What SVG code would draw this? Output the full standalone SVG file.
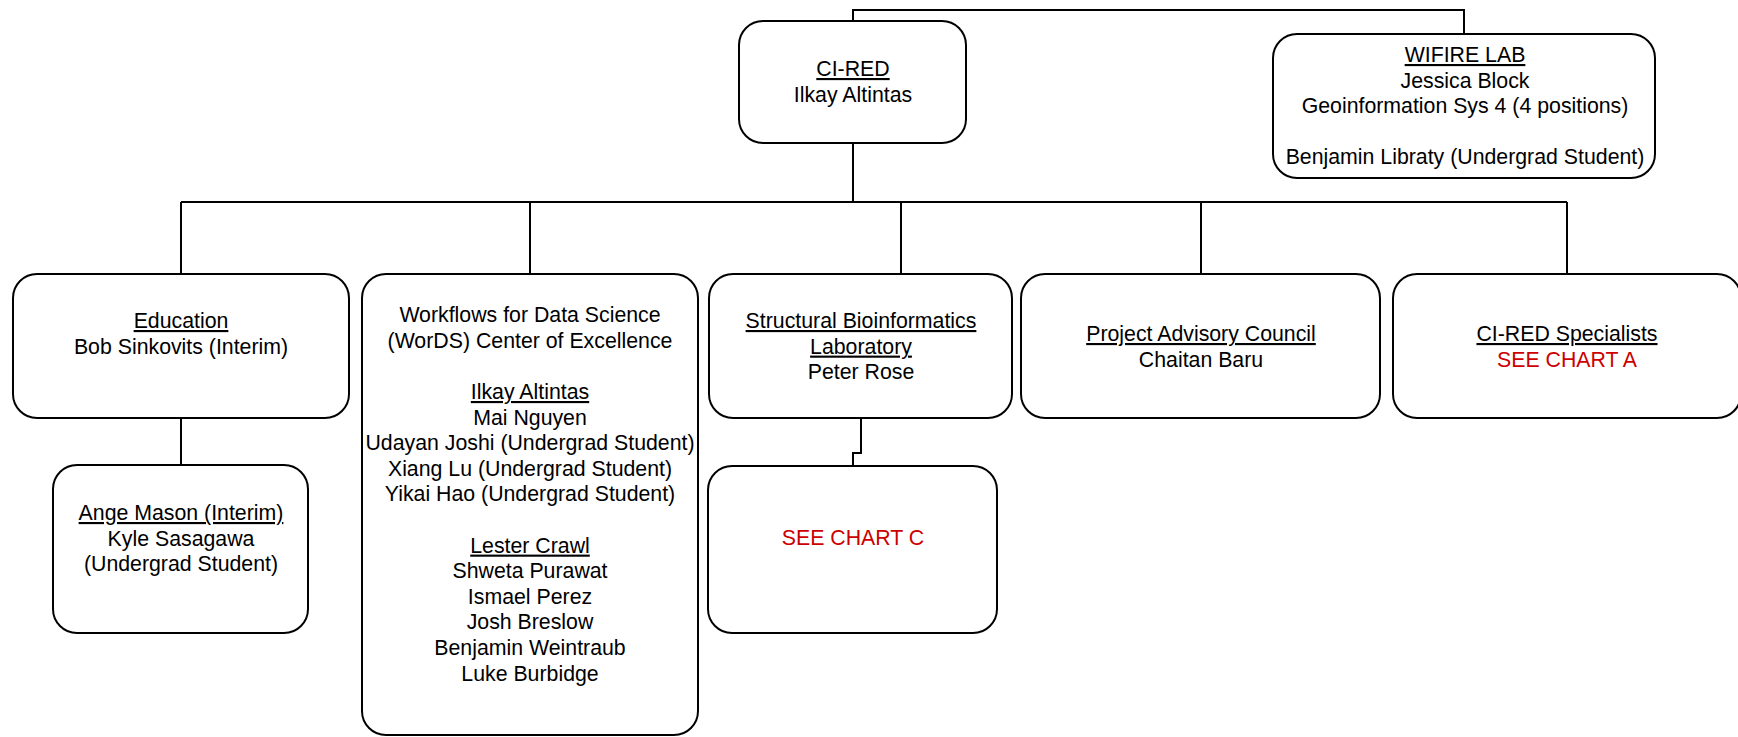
<svg xmlns="http://www.w3.org/2000/svg" width="1738" height="737" viewBox="0 0 1738 737">
<style>
.box{fill:#fff;stroke:#000;stroke-width:2}
.con{fill:none;stroke:#000;stroke-width:2}
text{font-family:"Liberation Sans",Arial,sans-serif;font-size:21.3px;fill:#000;text-anchor:middle}
.u{text-decoration:underline}
.red{fill:#CC0000}
</style>
<rect width="1738" height="737" fill="#fff"/>
<g id="connectors">
<polyline class="con" points="853,21 853,10 1464,10 1464,34"/>
<line class="con" x1="853" y1="143" x2="853" y2="202"/>
<line class="con" x1="181" y1="202" x2="1567" y2="202"/>
<line class="con" x1="181" y1="202" x2="181" y2="274"/>
<line class="con" x1="530" y1="202" x2="530" y2="274"/>
<line class="con" x1="901" y1="202" x2="901" y2="274"/>
<line class="con" x1="1201" y1="202" x2="1201" y2="274"/>
<line class="con" x1="1567" y1="202" x2="1567" y2="274"/>
<line class="con" x1="181" y1="418" x2="181" y2="465"/>
<polyline class="con" points="861,418 861,453 853,453 853,466"/>
</g>
<g id="ci-red">
<rect class="box" x="739" y="21" width="227" height="122" rx="24"/>
<text x="853" y="76"><tspan class="u">CI-RED</tspan></text>
<text x="853" y="102">Ilkay Altintas</text>
</g>
<g id="wifire">
<rect class="box" x="1273" y="34" width="382" height="144" rx="24"/>
<text x="1465" y="62"><tspan class="u">WIFIRE LAB</tspan></text>
<text x="1465" y="87.5">Jessica Block</text>
<text x="1465" y="113">Geoinformation Sys 4 (4 positions)</text>
<text x="1465" y="164">Benjamin Libraty (Undergrad Student)</text>
</g>
<g id="education">
<rect class="box" x="13" y="274" width="336" height="144" rx="24"/>
<text x="181" y="328"><tspan class="u">Education</tspan></text>
<text x="181" y="354">Bob Sinkovits (Interim)</text>
</g>
<g id="ange">
<rect class="box" x="53" y="465" width="255" height="168" rx="24"/>
<text x="181" y="520"><tspan class="u">Ange Mason (Interim)</tspan></text>
<text x="181" y="545.5">Kyle Sasagawa</text>
<text x="181" y="571">(Undergrad Student)</text>
</g>
<g id="words">
<rect class="box" x="362" y="274" width="336" height="461" rx="24"/>
<text x="530" y="322.2">Workflows for Data Science</text>
<text x="530" y="347.8">(WorDS) Center of Excellence</text>
<text x="530" y="399">
<tspan class="u">Ilkay Altintas</tspan></text>
<text x="530" y="424.6">Mai Nguyen</text>
<text x="530" y="450.2">Udayan Joshi (Undergrad Student)</text>
<text x="530" y="475.8">Xiang Lu (Undergrad Student)</text>
<text x="530" y="501.4">Yikai Hao (Undergrad Student)</text>
<text x="530" y="552.6"><tspan class="u">Lester Crawl</tspan></text>
<text x="530" y="578.2">Shweta Purawat</text>
<text x="530" y="603.8">Ismael Perez</text>
<text x="530" y="629.4">Josh Breslow</text>
<text x="530" y="655">Benjamin Weintraub</text>
<text x="530" y="680.6">Luke Burbidge</text>
</g>
<g id="sbl">
<rect class="box" x="709" y="274" width="303" height="144" rx="24"/>
<text x="861" y="328"><tspan class="u">Structural Bioinformatics</tspan></text>
<text x="861" y="353.6"><tspan class="u">Laboratory</tspan></text>
<text x="861" y="379.2">Peter Rose</text>
</g>
<g id="chart-c">
<rect class="box" x="708" y="466" width="289" height="167" rx="24"/>
<text class="red" x="853" y="545">SEE CHART C</text>
</g>
<g id="pac">
<rect class="box" x="1021" y="274" width="359" height="144" rx="24"/>
<text x="1201" y="341"><tspan class="u">Project Advisory Council</tspan></text>
<text x="1201" y="366.5">Chaitan Baru</text>
</g>
<g id="specialists">
<rect class="box" x="1393" y="274" width="348" height="144" rx="24"/>
<text x="1567" y="341"><tspan class="u">CI-RED Specialists</tspan></text>
<text class="red" x="1567" y="366.5">SEE CHART A</text>
</g>
</svg>
